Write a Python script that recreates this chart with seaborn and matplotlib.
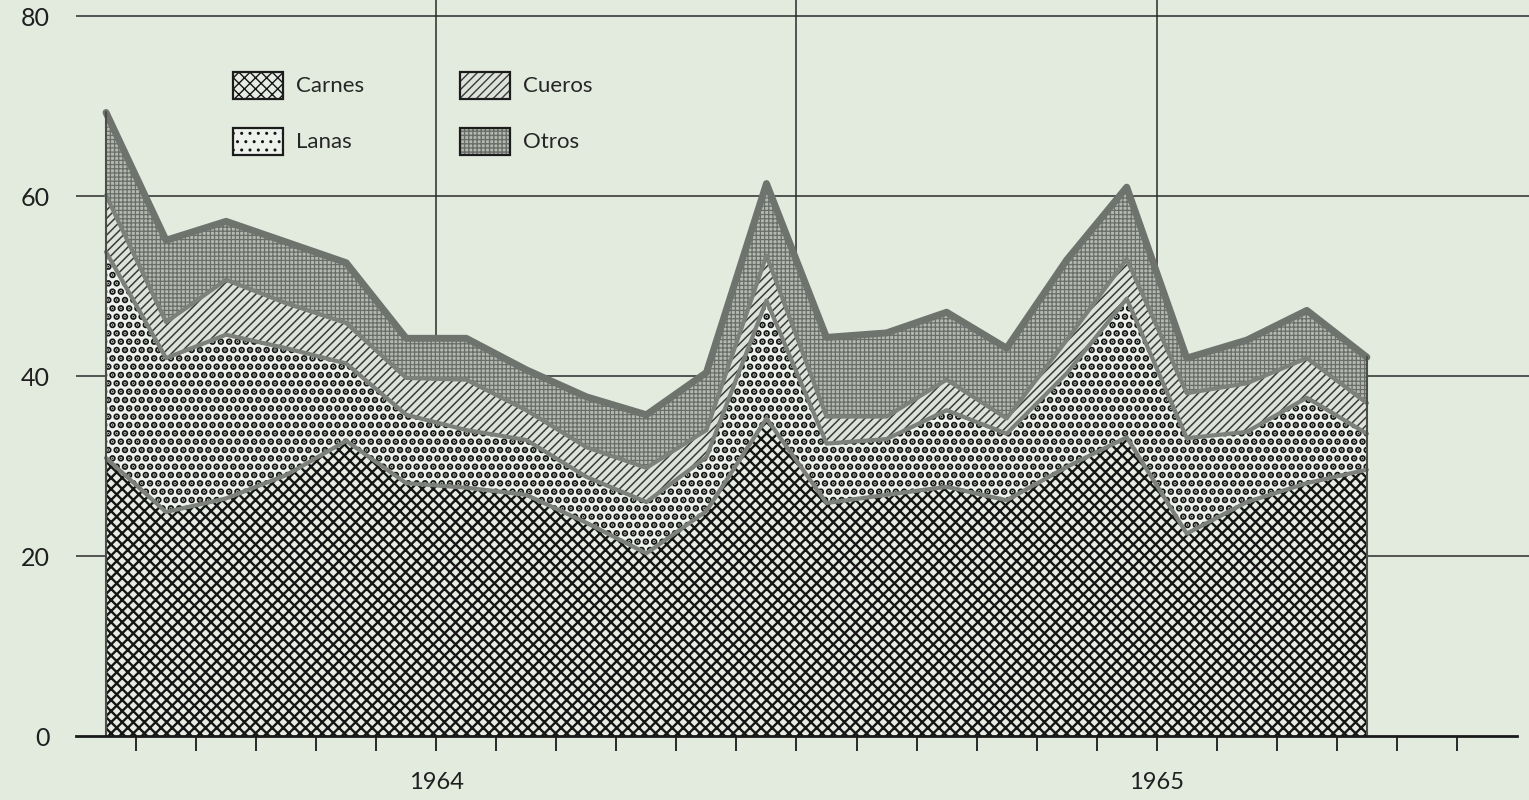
import numpy as np
import pandas as pd
import matplotlib.pyplot as plt
import seaborn as sns
from matplotlib.patches import Patch

# valores mensuales (ene 1964 - oct 1965)
carnes = [30.9, 24.9, 26.4, 29.0, 32.8, 28.1, 27.6, 26.8, 23.7, 20.3, 25.0,
          35.3, 25.9, 26.8, 27.7, 26.2, 29.9, 33.2, 22.5, 26.0, 28.1, 29.6]
lanas = [22.9, 17.1, 18.2, 14.1, 8.6, 7.6, 6.4, 6.1, 5.1, 5.7, 6.0,
         13.1, 6.6, 6.2, 8.5, 7.4, 10.4, 15.4, 10.6, 7.8, 9.5, 4.0]
cueros = [6.3, 4.0, 6.1, 5.0, 4.5, 4.1, 5.6, 3.3, 3.3, 3.8, 3.0,
          5.0, 3.0, 2.5, 3.4, 1.7, 3.7, 4.4, 5.0, 5.4, 4.4, 3.4]
otros = [9.2, 9.1, 6.5, 6.8, 6.7, 4.4, 4.6, 4.5, 5.6, 5.9, 6.4,
         8.0, 8.8, 9.3, 7.5, 7.8, 8.9, 8.0, 3.9, 4.8, 5.3, 5.1]
series = ["Carnes", "Lanas", "Cueros", "Otros"]
years = ["1964", "1965"]
yticks = [0, 20, 40, 60, 80]

bg = "#e3ebdf"
sns.set_theme(style="white")
plt.rcParams["font.family"] = ["Lato", "DejaVu Sans"]
plt.rcParams["hatch.linewidth"] = 1.0

df = pd.DataFrame({"Carnes": carnes, "Lanas": lanas, "Cueros": cueros, "Otros": otros})
df["mes"] = np.arange(len(df))
cum = df[series].cumsum(axis=1)
cum["mes"] = df["mes"]
long = cum.melt(id_vars="mes", var_name="serie", value_name="acum")

fig = plt.figure(figsize=(15.29, 8), dpi=100, facecolor=bg)
ax = fig.add_axes([76 / 1529, 0.08, 1 - 76 / 1529, 0.92])
ax.set_facecolor(bg)

# facecolor, hatch, hatch colour, hatch width
fills = {"Carnes": ("#e6ece3", "xxx", "#151515", 1.7),
         "Lanas": ("#eef2ec", "..", "#151515", 3.4),
         "Cueros": ("#dde3da", "////", "#3a3a3a", 1.1),
         "Otros": ("#b4b9b1", "++++", "#6a6e68", 0.9)}
lower = np.zeros(len(df))
for s in series:
    upper = cum[s].values
    fc, h, hc, hw = fills[s]
    coll = ax.fill_between(df["mes"], lower, upper, facecolor=fc, hatch=h,
                           edgecolor=hc, linewidth=0, zorder=2)
    if hasattr(coll, "set_hatch_linewidth"):
        coll.set_hatch_linewidth(hw)
    lower = upper

# bordes de cada capa
sns.lineplot(data=long[long["serie"] != "Otros"], x="mes", y="acum", hue="serie",
             palette=["#7d817b"] * 3, linewidth=3, legend=False, ax=ax, zorder=3)
sns.lineplot(data=long[long["serie"] == "Otros"], x="mes", y="acum",
             color="#6f736d", linewidth=5, legend=False, ax=ax, zorder=3)
ax.plot([0, 0], [0, cum["Otros"].iloc[0]], color="#4a4d48", lw=1.5, zorder=3)
ax.plot([df["mes"].iloc[-1]] * 2, [0, cum["Otros"].iloc[-1]], color="#4a4d48", lw=1.5, zorder=3)

ax.set_xlim(-0.5, 23.7)
ax.set_ylim(0, 81.8)
for y in yticks[1:]:
    ax.axhline(y, color="#2a2a2a", lw=1.1, zorder=1)
for x in [5.5, 11.5, 17.5]:
    ax.axvline(x, color="#2a2a2a", lw=1.1, zorder=1)

for sp in ["top", "right", "left"]:
    ax.spines[sp].set_visible(False)
ax.spines["bottom"].set_color("#1a1a1a")
ax.spines["bottom"].set_linewidth(2)
ax.spines["bottom"].set_bounds(-0.5, 23.5)
ax.spines["bottom"].set_zorder(4)

ax.set_xticks(np.arange(0.5, 23, 1))
ax.set_xticklabels([])
ax.tick_params(axis="x", direction="out", length=11, width=1.3, color="#1a1a1a", bottom=True)
ax.set_yticks(yticks)
ax.set_yticklabels([str(v) for v in yticks], fontsize=18, color="#1f1f1f")
ax.tick_params(axis="y", length=0, pad=19)
ax.set_xlabel("")
ax.set_ylabel("")

for label, xpos in zip(years, [5.5, 17.5]):
    ax.text(xpos, -5.2, label, ha="center", va="center", fontsize=17, color="#1f1f1f")

# legend: hatched patch + dark frame on top
handles = []
for s in series:
    fc, h, hc, hw = fills[s]
    p = Patch(facecolor=fc, hatch=h, edgecolor=hc, lw=0)
    if hasattr(p, "set_hatch_linewidth"):
        p.set_hatch_linewidth(min(hw, 1.4))
    frame = Patch(facecolor="none", edgecolor="#1c1c1c", lw=1.6)
    handles.append((p, frame))
ax.legend(handles, series, loc="upper left", bbox_to_anchor=(0.094, 0.93), ncol=2,
          frameon=False, fontsize=16, handlelength=2.25, handleheight=1.5,
          columnspacing=4.3, labelspacing=1.3, handletextpad=0.6)

fig.savefig("out.png", dpi=100, facecolor=bg)
